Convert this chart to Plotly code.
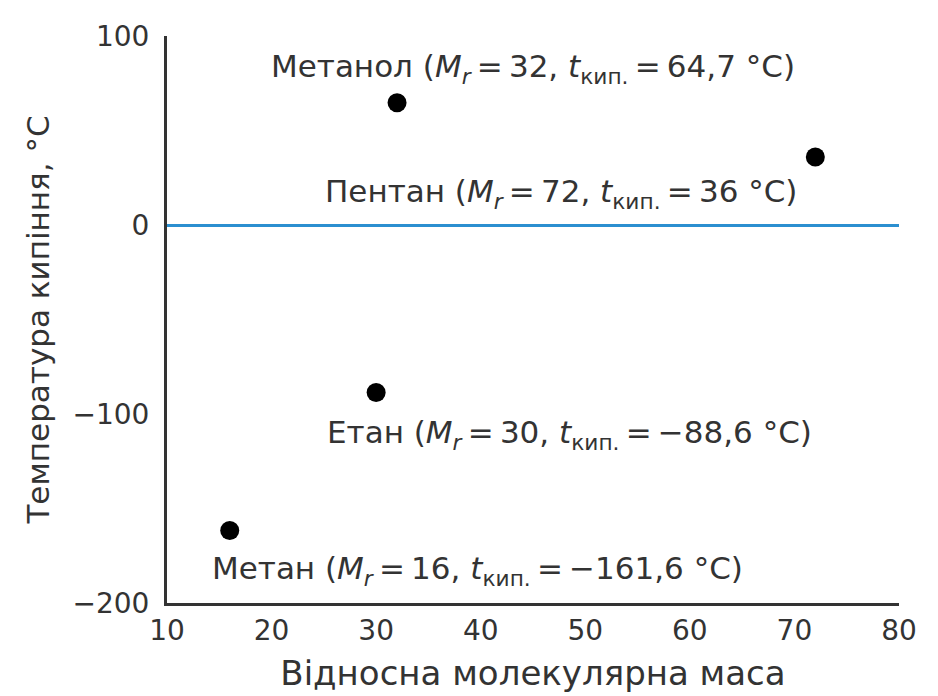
import plotly.graph_objects as go

names = ["Метан", "Етан", "Метанол", "Пентан"]
mr = [16, 30, 32, 72]
tboil = [-161.6, -88.6, 64.7, 36]
tboil_txt = ["−161,6", "−88,6", "64,7", "36"]
# label offsets in pixels (x, y) relative to each point
offsets = [(248, -40), (193, -42), (136, 34), (-254, -37)]

x_ticks = [10, 20, 30, 40, 50, 60, 70, 80]
y_ticks = [-200, -100, 0, 100]

FONT = "DejaVu Sans"
TXT = "#333333"

fig = go.Figure()
fig.add_trace(go.Scatter(
    x=mr, y=tboil, mode="markers",
    marker=dict(color="black", size=19),
    showlegend=False, hoverinfo="skip",
))

for n, m, t, tt, (dx, dy) in zip(names, mr, tboil, tboil_txt, offsets):
    label = (f"{n} (<i>M</i><sub><i>r</i></sub>\u2009=\u2009{m}, "
             f"<i>t</i><sub>кип.</sub>\u2009=\u2009{tt} °C)")
    fig.add_annotation(x=m, y=t, text=label, showarrow=False,
                       xanchor="center", yanchor="middle",
                       xshift=dx, yshift=dy,
                       font=dict(family=FONT, size=31, color=TXT))

fig.update_layout(
    width=938, height=696,
    margin=dict(l=159, r=47, t=17, b=101),
    paper_bgcolor="white", plot_bgcolor="white",
    font=dict(family=FONT, color=TXT, size=28),
    xaxis=dict(range=[10, 80], tickvals=x_ticks, showgrid=False, zeroline=False,
               showline=True, linecolor="#333333", linewidth=3, ticks="",
               ticklabelstandoff=0,
               tickfont=dict(size=28, color=TXT),
               title=dict(text="Відносна молекулярна маса",
                          font=dict(size=34, color=TXT), standoff=16)),
    yaxis=dict(range=[-200, 100], tickvals=y_ticks, showgrid=False,
               zeroline=True, zerolinecolor="#2b8fd0", zerolinewidth=3,
               showline=True, linecolor="#333333", linewidth=3, ticks="",
               ticklabelstandoff=9,
               tickfont=dict(size=28, color=TXT),
               title=dict(text="Температура кипіння, °C",
                          font=dict(size=31, color=TXT), standoff=14)),
)

fig.write_html("out.html")
